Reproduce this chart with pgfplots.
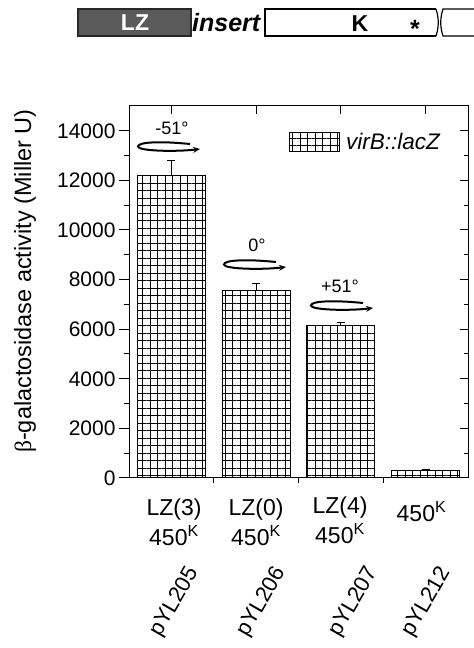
\documentclass[border=0pt]{standalone}
\usepackage{pgfplots}
\pgfplotsset{compat=1.18}
\usepackage{fontspec}
\setmainfont{Liberation Sans}
\newfontfamily\serifgreek{Liberation Serif}
\usetikzlibrary{patterns.meta,arrows.meta}
\newcommand\rotarrow[2]{%
  \draw[line width=2bp,-{Stealth[length=7bp,width=6bp]}]
    ({#1+52},{#2+1}) .. controls ({#1+22},{#2-2}) and ({#1},{#2-1}) .. ({#1},{#2+3.5})
    .. controls ({#1},{#2+8}) and ({#1+37},{#2+9}) .. ({#1+62},{#2+6});}
\begin{document}
\begin{tikzpicture}
\useasboundingbox (0,0) rectangle (474bp,648bp);
\pgfplotsset{
  common/.style={
    width=339bp, height=372bp, scale only axis,
    at={(129bp,170bp)}, anchor=south west,
    xmin=-0.5, xmax=3.5, ymin=0, ymax=15000,
    axis line style={black, line width=1bp},
    tick style={black, line width=1bp},
    scaled y ticks=false, scaled x ticks=false,
  },
}
\begin{axis}[common,
  ybar, bar width=0.8,
  ytick={0,2000,...,14000}, minor y tick num=1,
  ytick pos=left, xtick=\empty,
  tick align=outside, major tick length=10bp, minor tick length=5bp,
  yticklabel style={font=\fontsize{21bp}{21bp}\selectfont, /pgf/number format/1000 sep={}},
  /pgf/number format/assume math mode=true,
  legend style={at={(0.472,0.903)}, anchor=west, draw=none, fill=none,
    font=\fontsize{22.5bp}{22.5bp}\selectfont\itshape, inner sep=0pt},
  legend image code/.code={\draw[pattern={Hatch[angle=0,distance=7.5bp,line width=0.9bp]}, pattern color=black, draw=black, line width=1bp] (0bp,-9.5bp) rectangle (50bp,9.5bp);},
]
\addplot[ybar, draw=black, line width=1bp,
  pattern={Hatch[angle=0,distance=7.5bp,line width=0.9bp]}, pattern color=black,
  error bars/.cd, y dir=plus, y explicit,
  error bar style={black, line width=0.9bp},
  error mark options={black, rotate=90, mark size=4bp, line width=0.9bp}]
coordinates {(0,12200) +- (0,600) (1,7550) +- (0,300) (2,6150) +- (0,130) (3,300) +- (0,25)};
\addlegendentry{\hspace{4bp}virB::lacZ}
\end{axis}
\begin{axis}[common, xtick={0.5,1.5,2.5}, xtick pos=left, ytick=\empty,
  tick align=outside, major tick length=5bp, xticklabel=\empty]
\end{axis}
\begin{axis}[common, xtick={0,1,2,3}, xtick pos=right,
  ytick={0,2000,...,14000}, minor y tick num=1, ytick pos=right,
  tick align=inside, major tick length=8bp, minor tick length=4bp,
  xticklabel=\empty, yticklabel=\empty]
\end{axis}
\begin{scope}[x=1bp,y=-1bp,yshift=648bp]
% banner
\draw[line width=1.2bp, draw={rgb,255:red,40;green,40;blue,40}, fill={rgb,255:red,90;green,90;blue,90}] (78,9) rectangle (191,36);
\node[inner sep=0pt, anchor=base, text=white, font=\fontsize{23bp}{23bp}\selectfont\bfseries] at (135,30.7) {LZ};
\node[inner sep=0pt, anchor=base west, font=\fontsize{25bp}{25bp}\selectfont\bfseries\itshape] at (192,31.7) {insert};
\draw[line width=1.2bp] (436,9) -- (265,9) -- (265,36) -- (436,36);
\draw[line width=1.2bp] (436,9) .. controls (439,18) and (439,27) .. (436,36);
\draw[line width=1.2bp] (480,9) -- (443,9) .. controls (440,18) and (440,27) .. (443,36) -- (480,36);
\node[inner sep=0pt, anchor=base, font=\fontsize{23bp}{23bp}\selectfont\bfseries] at (360,31.7) {K};
\node[inner sep=0pt, anchor=base, font=\fontsize{25bp}{25bp}\selectfont\bfseries] at (415,38) {*};
% rotation annotations
\node[inner sep=0pt, anchor=base, font=\fontsize{18bp}{18bp}\selectfont] at (172,135) {-51°};
\rotarrow{138}{143}
\node[inner sep=0pt, anchor=base, font=\fontsize{18bp}{18bp}\selectfont] at (257,251.7) {0°};
\rotarrow{224}{261}
\node[inner sep=0pt, anchor=base, font=\fontsize{18bp}{18bp}\selectfont] at (340,292.7) {+51°};
\rotarrow{311}{302}
% y label
\node[rotate=90, font=\fontsize{23.5bp}{23.5bp}\selectfont] at (25,281) {{\serifgreek β}-galactosidase activity (Miller U)};
% category labels
\node[align=center, font=\fontsize{23bp}{30bp}\selectfont] at (174,522) {LZ(3)\\450\textsuperscript{K}};
\node[align=center, font=\fontsize{23bp}{30bp}\selectfont] at (256,522) {LZ(0)\\450\textsuperscript{K}};
\node[align=center, font=\fontsize{23bp}{30bp}\selectfont] at (340,520) {LZ(4)\\450\textsuperscript{K}};
\node[align=center, font=\fontsize{23bp}{30bp}\selectfont] at (421.5,512) {450\textsuperscript{K}};
\node[rotate=60, inner sep=0pt, font=\fontsize{22bp}{22bp}\selectfont] at (175,602) {pYL205};
\node[rotate=60, inner sep=0pt, font=\fontsize{22bp}{22bp}\selectfont] at (262,602) {pYL206};
\node[rotate=60, inner sep=0pt, font=\fontsize{22bp}{22bp}\selectfont] at (354,602) {pYL207};
\node[rotate=60, inner sep=0pt, font=\fontsize{22bp}{22bp}\selectfont] at (427,602) {pYL212};
\end{scope}
\end{tikzpicture}
\end{document}
